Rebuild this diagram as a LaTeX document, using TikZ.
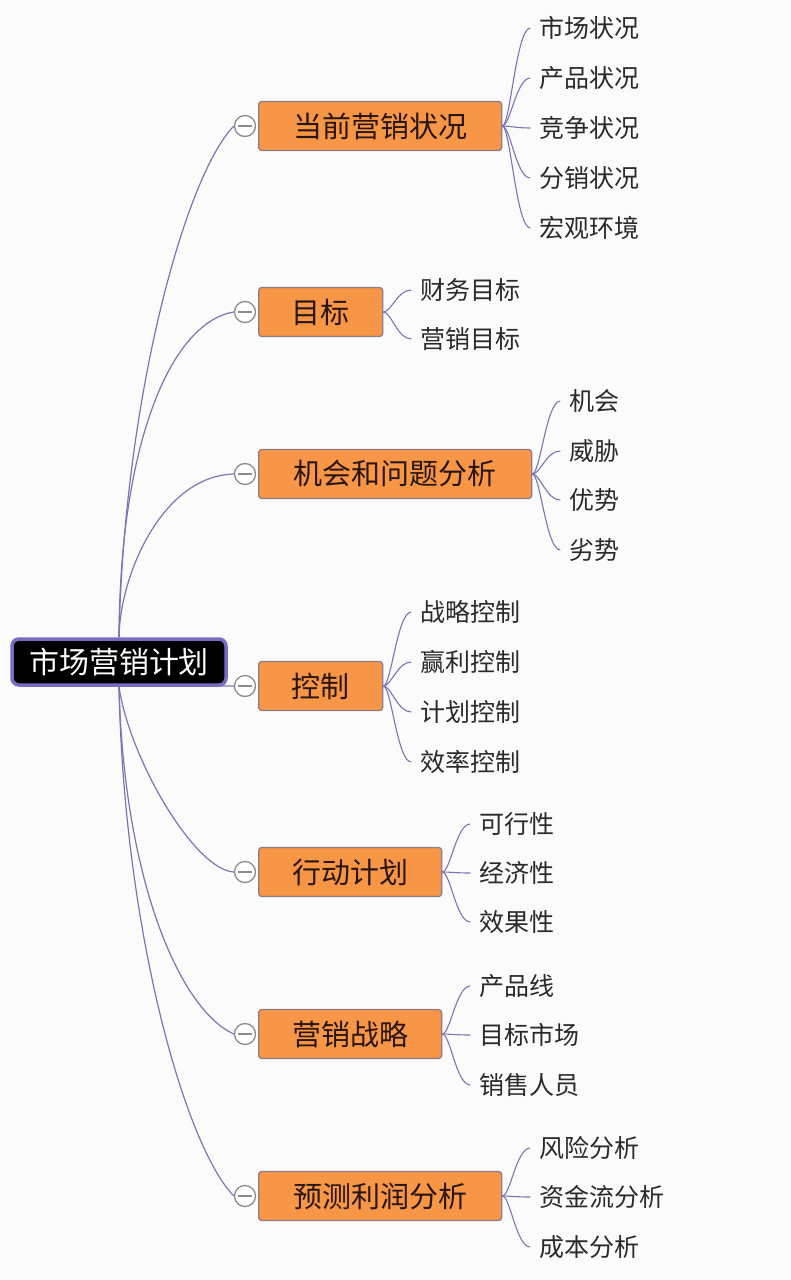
\documentclass[tikz,border=0pt]{standalone}
\usepackage{fontspec}
\setmainfont{Noto Sans CJK SC}
\definecolor{bg}{HTML}{FBFBFB}
\definecolor{edge}{HTML}{7C74B4}
\definecolor{orng}{HTML}{F79646}
\definecolor{obord}{HTML}{8E7C8C}
\definecolor{rootb}{HTML}{7B6AC2}
\definecolor{leaftxt}{HTML}{2A2A2A}
\definecolor{btxt}{HTML}{2A1608}
\definecolor{knobc}{HTML}{8C8C8C}
\tikzset{
 rootbox/.style={draw=rootb, line width=3.5pt, fill=black, rounded corners=7pt, text=white,
   minimum width=214pt, minimum height=46pt, font=\fontsize{30}{32}\selectfont, inner sep=0pt},
 branch/.style={draw=obord, line width=1.3pt, fill=orng, rounded corners=3pt, text=btxt,
   minimum width=#1pt, minimum height=49pt, font=\fontsize{29}{31}\selectfont, inner sep=0pt, anchor=west},
 leaf/.style={text=leaftxt, font=\fontsize{25}{27}\selectfont, inner sep=0pt, anchor=west},
 knob/.style={circle, draw=knobc, line width=1.3pt, fill=white, minimum size=21pt, inner sep=0pt,
   path picture={\draw[knobc,line width=1.3pt] ([xshift=-7pt]path picture bounding box.center) -- ([xshift=7pt]path picture bounding box.center);}},
 link/.style={draw=edge, line width=1.2pt},
 sub/.style={draw=edge, line width=1.1pt},
}
\newcommand{\leafset}[4]{% #1 parent name, #2 leaf name, #3 y, #4 text
  \path (#1.east) ++(37,0) coordinate (tmp#2);
  \node[leaf] (#2) at (tmp#2 |- 0,#3) {#4};
  \coordinate (e#2) at ([xshift=-9pt]#2.west);
  \draw[sub] (#1.east) .. controls ([xshift=8pt]#1.east) and ($(e#2)+(-14,0)$) .. (e#2);
}
\usetikzlibrary{calc}
\begin{document}
\begin{tikzpicture}[x=1pt,y=-1pt]
\useasboundingbox[fill=bg] (0,0) rectangle (791,1280);

% root
\coordinate (rc) at (119,662);

% branches
\node[branch=243] (b1) at (258,126) {当前营销状况};
\node[branch=124] (b2) at (258,312) {目标};
\node[branch=273] (b3) at (258,474) {机会和问题分析};
\node[branch=124] (b4) at (258,686) {控制};
\node[branch=183] (b5) at (258,872) {行动计划};
\node[branch=183] (b6) at (258,1034) {营销战略};
\node[branch=243] (b7) at (258,1196) {预测利润分析};

\foreach \i/\y in {1/126,2/312,3/474,4/686,5/872,6/1034,7/1196}
  \node[knob] (k\i) at (245,\y) {};

% root connectors
\draw[link] (119,637) .. controls (124,400) and (185,176) .. (k1.west);
\draw[link] (119,637) .. controls (120,440) and (172,322) .. (k2.west);
\draw[link] (119,637) .. controls (120,575) and (162,476) .. (k3.west);
\draw[link] (rc) .. controls (140,686) and (200,686) .. (k4.west);
\draw[link] (119,687) .. controls (130,760) and (195,870) .. (k5.west);
\draw[link] (119,687) .. controls (124,880) and (180,1010) .. (k6.west);
\draw[link] (119,687) .. controls (124,930) and (185,1146) .. (k7.west);

\node[rootbox] (root) at (rc) {市场营销计划};

% leaves
\leafset{b1}{l11}{28}{市场状况}
\leafset{b1}{l12}{78}{产品状况}
\leafset{b1}{l13}{128}{竞争状况}
\leafset{b1}{l14}{178}{分销状况}
\leafset{b1}{l15}{228}{宏观环境}

\leafset{b2}{l21}{290}{财务目标}
\leafset{b2}{l22}{339}{营销目标}

\leafset{b3}{l31}{401}{机会}
\leafset{b3}{l32}{451}{威胁}
\leafset{b3}{l33}{500}{优势}
\leafset{b3}{l34}{550}{劣势}

\leafset{b4}{l41}{612}{战略控制}
\leafset{b4}{l42}{662}{赢利控制}
\leafset{b4}{l43}{712}{计划控制}
\leafset{b4}{l44}{762}{效率控制}

\leafset{b5}{l51}{824}{可行性}
\leafset{b5}{l52}{873}{经济性}
\leafset{b5}{l53}{922}{效果性}

\leafset{b6}{l61}{986}{产品线}
\leafset{b6}{l62}{1035}{目标市场}
\leafset{b6}{l63}{1085}{销售人员}

\leafset{b7}{l71}{1148}{风险分析}
\leafset{b7}{l72}{1197}{资金流分析}
\leafset{b7}{l73}{1247}{成本分析}
\end{tikzpicture}
\end{document}
